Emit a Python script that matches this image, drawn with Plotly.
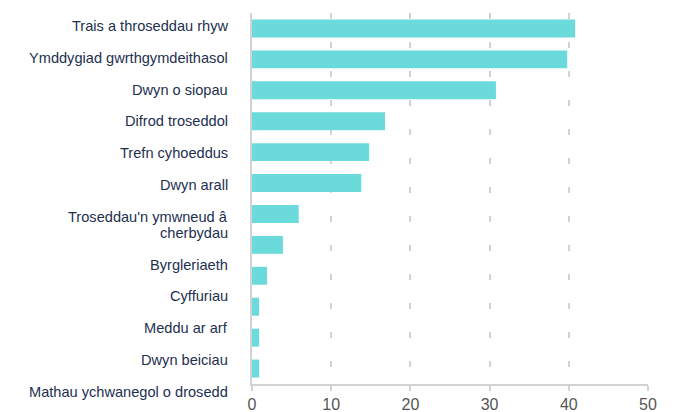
import plotly.graph_objects as go

# Offence categories (top to bottom) and their share, in percent
categories = [
    "Trais a throseddau rhyw",
    "Ymddygiad gwrthgymdeithasol",
    "Dwyn o siopau",
    "Difrod troseddol",
    "Trefn cyhoeddus",
    "Dwyn arall",
    "Troseddau'n ymwneud â cherbydau",
    "Byrgleriaeth",
    "Cyffuriau",
    "Meddu ar arf",
    "Dwyn beiciau",
    "Mathau ychwanegol o drosedd",
]
values = [40.8, 39.8, 30.8, 16.8, 14.8, 13.8, 5.9, 3.9, 1.9, 0.9, 0.9, 0.9]

# How each category label is broken across lines in the label column
label_lines = [
    ["Trais a throseddau rhyw"],
    ["Ymddygiad gwrthgymdeithasol"],
    ["Dwyn o siopau"],
    ["Difrod troseddol"],
    ["Trefn cyhoeddus"],
    ["Dwyn arall"],
    ["Troseddau'n ymwneud â", "cherbydau"],
    ["Byrgleriaeth"],
    ["Cyffuriau"],
    ["Meddu ar arf"],
    ["Dwyn beiciau"],
    ["Mathau ychwanegol o drosedd"],
]

x_ticks = [0, 10, 20, 30, 40, 50]

BAR = "#6bdada"
GRID = "#d2d2d2"
LABEL = "#1d3050"
TICK = "#555555"

W, H = 674, 412
M_L, M_R, M_T, M_B = 252, 26, 13, 28

fig = go.Figure(
    go.Bar(
        x=values,
        y=categories,
        orientation="h",
        marker=dict(color=BAR, line=dict(width=0)),
        width=0.58,
        hoverinfo="x+y",
    )
)

# Label column: a stacked list of text lines to the left of the plot
first_center = 13      # px below plot top of the first label line
row_pitch = 31.8       # px between consecutive labels
line_height = 16       # px between wrapped lines
annotations = []
offset = first_center
for lines in label_lines:
    for j, line in enumerate(lines):
        annotations.append(
            dict(
                text=line,
                xref="paper",
                yref="paper",
                x=0,
                y=1,
                xanchor="right",
                yanchor="middle",
                xshift=-22,
                yshift=-(offset + j * line_height),
                showarrow=False,
                font=dict(family="Liberation Sans, Arial, sans-serif", size=14.6, color=LABEL),
            )
        )
    offset += row_pitch + (len(lines) - 1) * line_height

fig.update_layout(
    width=W,
    height=H,
    margin=dict(l=M_L, r=M_R, t=M_T, b=M_B, pad=0),
    paper_bgcolor="white",
    plot_bgcolor="white",
    showlegend=False,
    annotations=annotations,
    xaxis=dict(
        range=[0, 50],
        tickvals=x_ticks,
        ticktext=[str(t) for t in x_ticks],
        showgrid=True,
        gridcolor=GRID,
        gridwidth=2,
        griddash="6px,23px",
        zeroline=False,
        showline=True,
        linecolor=GRID,
        linewidth=2,
        ticks="outside",
        ticklen=5,
        tickwidth=2,
        tickcolor=GRID,
        tickfont=dict(family="Liberation Sans, Arial, sans-serif", size=16, color=TICK),
        automargin=False,
        fixedrange=True,
    ),
    yaxis=dict(
        autorange="reversed",
        showticklabels=False,
        showgrid=False,
        zeroline=False,
        showline=True,
        linecolor=GRID,
        linewidth=2,
        ticks="",
        fixedrange=True,
    ),
)

fig.write_html("out.html")
